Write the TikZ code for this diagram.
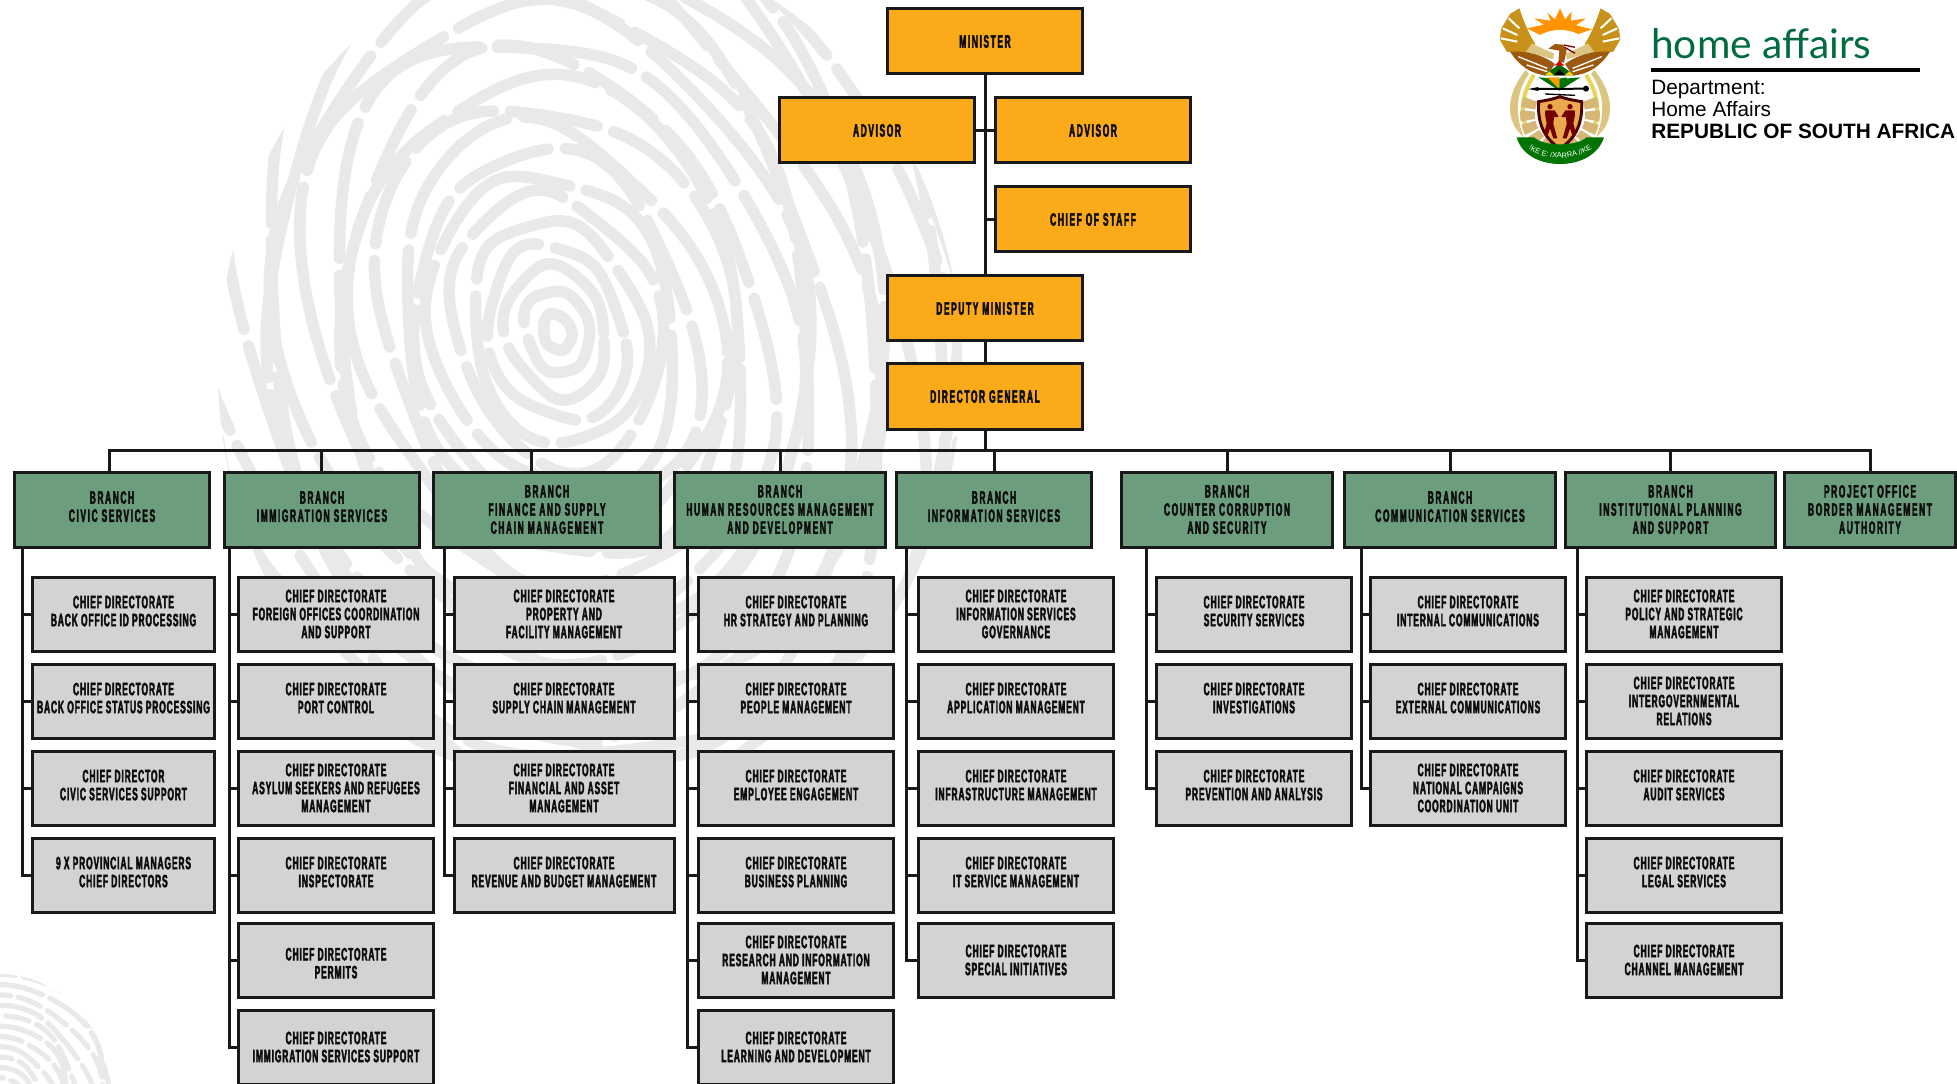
\documentclass[tikz,border=0pt]{standalone}
\usepackage{fontspec}
\usepackage{tikz}
\usetikzlibrary{positioning, calc, decorations.text}
\pgfdeclarelayer{background}
\pgfsetlayers{background,main}
\setmainfont{Liberation Sans}
\newfontfamily\chartfont[FakeStretch=0.47,FakeBold=2.3,LetterSpace=5]{Liberation Sans Bold}
\newfontfamily\headfont[FakeStretch=0.47,FakeBold=2.3,LetterSpace=9]{Liberation Sans Bold}
\newfontfamily\brandfont{Lato}
\newcommand{\BoxFont}{\chartfont\fontsize{13.4}{13.5}\selectfont}
\newcommand{\HeadFont}{\headfont\fontsize{13.4}{13.6}\selectfont}
\definecolor{topfill}{HTML}{FBAA19}
\definecolor{branchfill}{HTML}{6C9E7E}
\definecolor{chieffill}{HTML}{D1D3D4}
\definecolor{printgray}{HTML}{E9E9EA}
\definecolor{brandgreen}{HTML}{006B3F}
\definecolor{crestgold}{HTML}{C8921A}
\definecolor{crestbrown}{HTML}{9C5A10}
\definecolor{cresttan}{HTML}{DCC583}
\tikzset{
    orgbox/.style={draw=black!90, line width=2.25pt, inner sep=0pt, align=center, text=black!95, font=\BoxFont},
    topbox/.style={orgbox, font=\HeadFont, fill=topfill, minimum width=146.25pt, minimum height=48.75pt},
    branchbox/.style={orgbox, font=\HeadFont, fill=branchfill, minimum width=0.75pt*#1+1.5pt, minimum height=56.25pt},
    branchbox/.default=193,
    chiefbox/.style={orgbox, fill=chieffill, minimum width=0.75pt*#1+1.5pt, minimum height=55.5pt},
    chiefbox/.default=193,
    lifted/.style={execute at end node=\rule[-4.5pt]{0pt}{0pt}},
    conn/.style={draw=black!90, line width=2.25pt},
    ridge/.style={printgray, line width=8.6pt, line cap=round},
    smallridge/.style={printgray, line width=3.9pt, line cap=round},
    crestside/.pic = {
    % tusk, wheat and wing of one side of the crest
    \fill[cresttan] (197,210) .. controls (140,280) and (130,360) .. (192,412) .. controls (165,350) and (165,280) .. (207,222) -- cycle;
    \draw[cresttan!70!yellow, line width=3pt] (222,225) .. controls (185,280) and (180,340) .. (200,385);
    \draw[cresttan!80!brown, line width=11pt, dash pattern=on 7pt off 2pt] (212,298) .. controls (190,350) and (205,410) .. (268,448);
    \fill[crestgold] (178,25) -- (150,42) -- (124,85) -- (119,118) -- (140,155) -- (205,162) -- (226,132) .. controls (205,100) and (190,60) .. (178,25) -- cycle;
    \draw[white, line width=1.5pt] (146,55) -- (178,85) (128,85) -- (172,105) (122,115) -- (172,125);
    \fill[cresttan] (216,130) -- (198,155) -- (245,168) -- (280,178) -- (282,160) .. controls (255,150) and (235,140) .. (216,130) -- cycle;
    \fill[crestbrown] (150,155) .. controls (200,152) and (250,165) .. (285,192) -- (262,226) .. controls (215,225) and (175,195) .. (150,155) -- cycle;
    \draw[white, line width=1pt] (175,170) -- (262,205) (200,195) -- (262,215);
    },
}

\begin{document}
\begin{tikzpicture}[x=0.75pt, y=-0.75pt]
    \useasboundingbox (0,0) rectangle (1957,1084);

    % fingerprints behind the chart
    \begin{pgfonlayer}{background}
      \begin{scope}
        \clip (590,370) ellipse [x radius=372, y radius=425];
        \foreach \r in {14,32,...,540} {
          \pgfmathsetmacro{\onlen}{58+mod(\r*13,95)}
          \pgfmathsetmacro{\phase}{mod(\r*29,130)}
          \draw[ridge, dash pattern=on \onlen pt off 13pt, dash phase=\phase pt]
            plot[smooth cycle, samples=44, domain=0:351.8] ({557+\r*cos(\x)*(1+0.07*sin(3*\x+\r*5))+0.16*\r*sin(\x)}, {332+1.3*\r*sin(\x)*(1+0.05*cos(4*\x+\r*7))});
        }
      \end{scope}
      \begin{scope}
        \clip (0,1110) ellipse [x radius=115, y radius=136];
        \foreach \r in {10,19,...,150} {
          \pgfmathsetmacro{\onlen}{18+mod(\r*17,34)}
          \draw[smallridge, dash pattern=on \onlen pt off 6pt, dash phase=\r pt]
            plot[smooth, samples=24, domain=180:360] ({\r*cos(\x)*(1+0.07*sin(4*\x+\r*9))}, {1110+1.15*\r*sin(\x)});
        }
      \end{scope}
    \end{pgfonlayer}

    % crest
    \begin{scope}[shift={(1460,0)}, x=0.25pt, y=-0.25pt]
      \pic at (0,0) {crestside};
      \pic[xscale=-1] at (600,0) {crestside};
      \fill[orange!85!yellow] (200,85) -- (252,74) -- (222,55) -- (272,62) -- (262,38) -- (285,58) -- (300,25) -- (315,58) -- (335,35) -- (332,62) -- (378,55) -- (348,76) -- (397,88) -- (355,102) .. controls (320,85) and (275,85) .. (240,105) -- cycle;
      \fill[crestbrown] (265,146) -- (285,132) -- (310,134) -- (320,150) -- (312,188) -- (295,185) -- (298,152) -- cycle;
      \draw[red!50!black, line width=1pt] (312,135) -- (345,142) (314,142) -- (345,160);
      \fill[green!40!black] (298,193) -- (345,226) -- (250,226) -- cycle;
      \fill[red!80!black] (298,183) -- (314,197) -- (283,197) -- cycle;
      \fill[black] (298,208) -- (315,226) -- (281,226) -- cycle;
      \fill[yellow!70!orange] (268,214) -- (282,226) -- (254,226) -- cycle (328,214) -- (342,226) -- (314,226) -- cycle;
      \fill[green!45!black] (235,232) -- (285,236) -- (298,272) -- cycle (361,232) -- (312,236) -- (298,272) -- cycle;
      \fill[orange!80!yellow] (262,232) -- (298,232) -- (298,268) -- cycle;
      \fill[green!45!black] (298,236) -- (320,232) -- (298,272) -- cycle;
      \draw[black, line width=1.5pt] (232,267) -- (378,266);
      \fill[black] (205,267) -- (235,261) -- (235,273) -- cycle;
      \fill[black] (378,266) circle [radius=9];
      \draw[black, line width=1pt] (255,282) -- (345,286);
      \filldraw[fill=cresttan!60!orange, draw=red!30!black, line width=2.2pt] (236,305) .. controls (265,300) and (285,296) .. (300,290) .. controls (315,296) and (335,300) .. (365,305) .. controls (368,365) and (350,415) .. (300,445) .. controls (250,415) and (232,365) .. (236,305) -- cycle;
      \fill[red!45!black] (270,320) circle [radius=8] (330,320) circle [radius=8];
      \fill[red!45!black] (256,331) -- (284,331) -- (296,350) -- (282,352) -- (280,372) -- (292,415) -- (280,415) -- (270,385) -- (262,410) -- (252,400) -- (260,370) -- (255,345) -- cycle;
      \fill[red!45!black] (344,331) -- (316,331) -- (304,350) -- (318,352) -- (320,372) -- (308,415) -- (320,415) -- (330,385) -- (338,410) -- (348,400) -- (340,370) -- (345,345) -- cycle;
      \fill[green!45!black] (170,412) -- (222,412) .. controls (250,440) and (350,440) .. (380,412) -- (432,412) .. controls (415,465) and (360,492) .. (300,492) .. controls (240,492) and (185,465) .. (170,412) -- cycle;
      \path[decorate, decoration={text along path, text align=center, text={|\fontsize{5.6}{6}\selectfont\color{white}|!KE E: /XARRA //KE}}] (186,426) .. controls (230,490) and (370,490) .. (416,426);
    \end{scope}

    % department name
    \node[anchor=base west, inner sep=0pt, text=brandgreen, font=\brandfont\fontsize{30.5}{31}\selectfont] (brand) at (1651,59) {home affairs};
    \fill[black] (1651,68.3) rectangle (1920,71.7);
    \node[anchor=base west, inner sep=0pt, font=\fontsize{15.6}{16}\selectfont] (dept) at (1651,94.5) {Department:};
    \node[anchor=base west, inner sep=0pt, font=\fontsize{15.6}{16}\selectfont] (deptname) at (1651,117) {Home Affairs};
    \node[anchor=base west, inner sep=0pt, font=\bfseries\fontsize{15.6}{16}\selectfont] (republic) at (1651,139) {REPUBLIC OF SOUTH AFRICA};

    % political office
    \node[topbox] (minister) at (985,41.5) {MINISTER};
    \node[topbox] (advisora) at (877,130.5) {ADVISOR};
    \node[topbox] (advisorb) at (1093,130.5) {ADVISOR};
    \node[topbox] (staff) at (1093,219.5) {CHIEF OF STAFF};
    \node[topbox] (deputy) at (985,308.5) {DEPUTY MINISTER};
    \node[topbox] (dg) at (985,396.5) {DIRECTOR GENERAL};
    \coordinate (bus) at (985,450);

    % branches
    \node[branchbox, lifted] (b1) at (112,509.5) {BRANCH\\CIVIC SERVICES};
    \node[branchbox, lifted] (b2) at (322,509.5) {BRANCH\\IMMIGRATION SERVICES};
    \node[branchbox=225] (b3) at (547,509.5) {BRANCH\\FINANCE AND SUPPLY\\CHAIN MANAGEMENT};
    \node[branchbox=209] (b4) at (780,509.5) {BRANCH\\HUMAN RESOURCES MANAGEMENT\\AND DEVELOPMENT};
    \node[branchbox, lifted] (b5) at (994,509.5) {BRANCH\\INFORMATION SERVICES};
    \node[branchbox=209] (b6) at (1227,509.5) {BRANCH\\COUNTER CORRUPTION\\AND SECURITY};
    \node[branchbox=209, lifted] (b7) at (1450,509.5) {BRANCH\\COMMUNICATION SERVICES};
    \node[branchbox=208] (b8) at (1670.5,509.5) {BRANCH\\INSTITUTIONAL PLANNING\\AND SUPPORT};
    \node[branchbox=169] (b9) at (1870,509.5) {PROJECT OFFICE\\BORDER MANAGEMENT\\AUTHORITY};

    % chief directorates
    \node[chiefbox=180, lifted] (c11) at (123.5,614) {CHIEF DIRECTORATE\\BACK OFFICE ID PROCESSING};
    \node[chiefbox=180, lifted] (c12) at (123.5,701) {CHIEF DIRECTORATE\\BACK OFFICE STATUS PROCESSING};
    \node[chiefbox=180, lifted] (c13) at (123.5,788) {CHIEF DIRECTOR\\CIVIC SERVICES SUPPORT};
    \node[chiefbox=180, lifted] (c14) at (123.5,875) {9 X PROVINCIAL MANAGERS\\CHIEF DIRECTORS};

    \node[chiefbox] (c21) at (336,614) {CHIEF DIRECTORATE\\FOREIGN OFFICES COORDINATION\\AND SUPPORT};
    \node[chiefbox, lifted] (c22) at (336,701) {CHIEF DIRECTORATE\\PORT CONTROL};
    \node[chiefbox] (c23) at (336,788) {CHIEF DIRECTORATE\\ASYLUM SEEKERS AND REFUGEES\\MANAGEMENT};
    \node[chiefbox, lifted] (c24) at (336,875) {CHIEF DIRECTORATE\\INSPECTORATE};
    \node[chiefbox] (c25) at (336,960) {\rule{0pt}{15pt}CHIEF DIRECTORATE\\PERMITS\rule[-1pt]{0pt}{0pt}};
    \node[chiefbox] (c26) at (336,1047) {CHIEF DIRECTORATE\\IMMIGRATION SERVICES SUPPORT};

    \node[chiefbox=218] (c31) at (564,614) {CHIEF DIRECTORATE\\PROPERTY AND\\FACILITY MANAGEMENT};
    \node[chiefbox=218, lifted] (c32) at (564,701) {CHIEF DIRECTORATE\\SUPPLY CHAIN MANAGEMENT};
    \node[chiefbox=218] (c33) at (564,788) {CHIEF DIRECTORATE\\FINANCIAL AND ASSET\\MANAGEMENT};
    \node[chiefbox=218, lifted] (c34) at (564,875) {CHIEF DIRECTORATE\\REVENUE AND BUDGET MANAGEMENT};

    \node[chiefbox, lifted] (c41) at (796,614) {CHIEF DIRECTORATE\\HR STRATEGY AND PLANNING};
    \node[chiefbox, lifted] (c42) at (796,701) {CHIEF DIRECTORATE\\PEOPLE MANAGEMENT};
    \node[chiefbox, lifted] (c43) at (796,788) {CHIEF DIRECTORATE\\EMPLOYEE ENGAGEMENT};
    \node[chiefbox, lifted] (c44) at (796,875) {CHIEF DIRECTORATE\\BUSINESS PLANNING};
    \node[chiefbox] (c45) at (796,960) {CHIEF DIRECTORATE\\RESEARCH AND INFORMATION\\MANAGEMENT};
    \node[chiefbox] (c46) at (796,1047) {CHIEF DIRECTORATE\\LEARNING AND DEVELOPMENT};

    \node[chiefbox] (c51) at (1016,614) {CHIEF DIRECTORATE\\INFORMATION SERVICES\\GOVERNANCE};
    \node[chiefbox, lifted] (c52) at (1016,701) {CHIEF DIRECTORATE\\APPLICATION MANAGEMENT};
    \node[chiefbox, lifted] (c53) at (1016,788) {CHIEF DIRECTORATE\\INFRASTRUCTURE MANAGEMENT};
    \node[chiefbox, lifted] (c54) at (1016,875) {CHIEF DIRECTORATE\\IT SERVICE MANAGEMENT};
    \node[chiefbox] (c55) at (1016,960) {CHIEF DIRECTORATE\\SPECIAL INITIATIVES};

    \node[chiefbox, lifted] (c61) at (1254,614) {CHIEF DIRECTORATE\\SECURITY SERVICES};
    \node[chiefbox, lifted] (c62) at (1254,701) {CHIEF DIRECTORATE\\INVESTIGATIONS};
    \node[chiefbox, lifted] (c63) at (1254,788) {CHIEF DIRECTORATE\\PREVENTION AND ANALYSIS};

    \node[chiefbox, lifted] (c71) at (1468,614) {CHIEF DIRECTORATE\\INTERNAL COMMUNICATIONS};
    \node[chiefbox, lifted] (c72) at (1468,701) {CHIEF DIRECTORATE\\EXTERNAL COMMUNICATIONS};
    \node[chiefbox] (c73) at (1468,788) {CHIEF DIRECTORATE\\NATIONAL CAMPAIGNS\\COORDINATION UNIT};

    \node[chiefbox] (c81) at (1684,614) {CHIEF DIRECTORATE\\POLICY AND STRATEGIC\\MANAGEMENT};
    \node[chiefbox] (c82) at (1684,701) {CHIEF DIRECTORATE\\INTERGOVERNMENTAL\\RELATIONS};
    \node[chiefbox, lifted] (c83) at (1684,788) {CHIEF DIRECTORATE\\AUDIT SERVICES};
    \node[chiefbox, lifted] (c84) at (1684,875) {CHIEF DIRECTORATE\\LEGAL SERVICES};
    \node[chiefbox] (c85) at (1684,960) {CHIEF DIRECTORATE\\CHANNEL MANAGEMENT};

    % trunks under the branches
    \coordinate (t1) at (22,547);
    \coordinate (t2) at (229,547);
    \coordinate (t3) at (444,547);
    \coordinate (t4) at (687,547);
    \coordinate (t5) at (906,547);
    \coordinate (t6) at (1146,547);
    \coordinate (t7) at (1361,547);
    \coordinate (t8) at (1577,547);

    \draw[conn] (minister) -- (deputy);
    \draw[conn] (deputy) -- (dg);
    \draw[conn] (advisora) -- (advisorb);
    \draw[conn] (staff.west) -- (staff.west -| minister);
    \draw[conn] (dg) -- (bus);
    \draw[conn] (bus) -| ([xshift=-2.25pt]b1.north);
    \draw[conn] (bus) -| ([xshift=-0.75pt]b2.north);
    \draw[conn] (bus) -| ([xshift=-12pt]b3.north);
    \draw[conn] (bus) -| (b4);
    \draw[conn] (bus) -| (b5);
    \draw[conn] (bus) -| (b6);
    \draw[conn] (bus) -| (b7);
    \draw[conn] (bus) -| (b8);
    \draw[conn] (bus) -| (b9);

    \draw[conn] (t1) |- (c11) (t1) |- (c12) (t1) |- (c13) (t1) |- (c14);
    \draw[conn] (t2) |- (c21) (t2) |- (c22) (t2) |- (c23) (t2) |- (c24) (t2) |- (c25) (t2) |- (c26);
    \draw[conn] (t3) |- (c31) (t3) |- (c32) (t3) |- (c33) (t3) |- (c34);
    \draw[conn] (t4) |- (c41) (t4) |- (c42) (t4) |- (c43) (t4) |- (c44) (t4) |- (c45) (t4) |- (c46);
    \draw[conn] (t5) |- (c51) (t5) |- (c52) (t5) |- (c53) (t5) |- (c54) (t5) |- (c55);
    \draw[conn] (t6) |- (c61) (t6) |- (c62) (t6) |- (c63);
    \draw[conn] (t7) |- (c71) (t7) |- (c72) (t7) |- (c73);
    \draw[conn] (t8) |- (c81) (t8) |- (c82) (t8) |- (c83) (t8) |- (c84) (t8) |- (c85);
\end{tikzpicture}
\end{document}
